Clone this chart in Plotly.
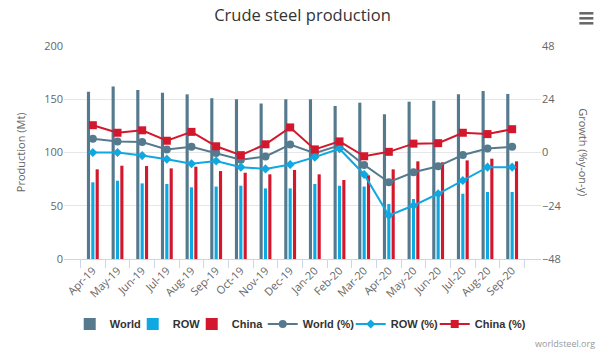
import plotly.graph_objects as go
from plotly.subplots import make_subplots

months = ["Apr-19", "May-19", "Jun-19", "Jul-19", "Aug-19", "Sep-19", "Oct-19", "Nov-19", "Dec-19",
          "Jan-20", "Feb-20", "Mar-20", "Apr-20", "May-20", "Jun-20", "Jul-20", "Aug-20", "Sep-20"]
world = [157.0, 162.0, 158.7, 156.0, 154.6, 151.0, 150.0, 146.0, 150.0,
         150.0, 143.7, 146.8, 136.0, 147.7, 148.6, 154.6, 157.7, 155.0]
row = [72.0, 73.5, 71.0, 70.4, 67.3, 68.0, 68.8, 66.3, 66.3,
       70.4, 68.8, 68.0, 51.6, 56.3, 61.6, 61.3, 62.9, 62.9]
china = [84.2, 87.6, 87.3, 85.1, 86.7, 82.6, 81.0, 79.5, 83.6,
         79.5, 74.2, 78.6, 84.2, 91.7, 90.8, 92.6, 94.2, 91.7]
world_pct = [6.2, 5.0, 4.7, 1.4, 2.6, -0.2, -3.3, -1.8, 3.6,
             -0.3, 3.2, -5.6, -13.4, -8.9, -6.2, -1.1, 1.8, 2.6]
row_pct = [0.0, 0.0, -1.4, -3.0, -5.1, -3.8, -6.6, -7.4, -5.4,
           -2.1, 1.7, -9.9, -28.4, -23.9, -18.6, -12.6, -6.6, -6.6]
china_pct = [12.3, 8.9, 10.0, 5.3, 9.3, 2.8, -1.2, 3.7, 11.3,
             1.4, 5.0, -1.7, 0.3, 4.0, 4.2, 8.9, 8.3, 10.5]

C_WORLD = "#557a8e"
C_ROW = "#10a8e0"
C_CHINA = "#d3182e"
FONT = "Open Sans"

fig = make_subplots(specs=[[{"secondary_y": True}]])

fig.add_trace(go.Bar(x=months, y=world, name="World", marker_color=C_WORLD, marker_line_width=0,
                     legendwidth=18), secondary_y=False)
fig.add_trace(go.Bar(x=months, y=row, name="ROW", marker_color=C_ROW, marker_line_width=0,
                     legendwidth=14), secondary_y=False)
fig.add_trace(go.Bar(x=months, y=china, name="China", marker_color=C_CHINA, marker_line_width=0,
                     legendwidth=26), secondary_y=False)

fig.add_trace(go.Scatter(x=months, y=world_pct, name="World (%)", mode="lines+markers",
                         line=dict(color=C_WORLD, width=2), marker=dict(symbol="circle", size=8, color=C_WORLD),
                         legendwidth=43),
              secondary_y=True)
fig.add_trace(go.Scatter(x=months, y=row_pct, name="ROW (%)", mode="lines+markers",
                         line=dict(color=C_ROW, width=2), marker=dict(symbol="diamond", size=7, color=C_ROW),
                         legendwidth=39),
              secondary_y=True)
fig.add_trace(go.Scatter(x=months, y=china_pct, name="China (%)", mode="lines+markers",
                         line=dict(color=C_CHINA, width=2), marker=dict(symbol="square", size=8, color=C_CHINA),
                         legendwidth=51),
              secondary_y=True)

fig.update_layout(
    width=605, height=351,
    margin=dict(l=64, r=64, t=46, b=92, autoexpand=False),
    paper_bgcolor="white", plot_bgcolor="white",
    barmode="group", bargap=0.47, bargroupgap=0.28,
    font=dict(family=FONT, color="#666666", size=11),
    title=dict(text="Crude steel production", x=0.5, xanchor="center", y=1 - 15.5 / 351, yanchor="middle",
               font=dict(family=FONT, size=16.5, color="#333333")),
    legend=dict(orientation="h", x=0.012, xanchor="left", y=(259 - 324) / 213, yanchor="middle",
                font=dict(family="Liberation Sans", size=11, color="#333333", weight="bold"),
                itemwidth=30, tracegroupgap=0, entrywidthmode="pixels"),
    showlegend=True,
)

fig.update_xaxes(domain=[0, 1], showline=True, linecolor="#ccd6eb", linewidth=1, ticks="outside",
                 tickson="boundaries", ticklen=8, tickcolor="#ccd6eb", tickangle=-45, showgrid=False,
                 automargin=False, tickfont=dict(size=11, color="#666666"))
fig.update_yaxes(range=[0, 200], dtick=50, gridcolor="#e6e6e6", gridwidth=1, zeroline=False, automargin=False,
                 showline=False, tickfont=dict(size=11, color="#666666"), ticks="", secondary_y=False)
fig.update_yaxes(range=[-48, 48], dtick=24, showgrid=False, zeroline=False, showline=False, automargin=False,
                 tickfont=dict(size=11, color="#666666"), ticks="", secondary_y=True)

fig.add_annotation(text="Production (Mt)", xref="paper", yref="paper", x=(21 - 64.3) / 476.4, y=0.5,
                   textangle=-90, showarrow=False, font=dict(size=11, color="#666666"),
                   xanchor="center", yanchor="middle")
fig.add_annotation(text="Growth (%y-on-y)", xref="paper", yref="paper", x=(583 - 64.3) / 476.4, y=0.5,
                   textangle=90, showarrow=False, font=dict(size=11, color="#666666"),
                   xanchor="center", yanchor="middle")
fig.add_annotation(text="worldsteel.org", xref="paper", yref="paper", x=(597 - 64.3) / 476.4,
                   y=(259 - 343) / 213, xanchor="right", yanchor="middle", showarrow=False,
                   font=dict(size=9, color="#999999"))

# hamburger menu icon
for yy in (13.3, 18.3, 23.3):
    py = (259 - yy) / 213
    fig.add_shape(type="line", xref="paper", yref="paper",
                  x0=(579 - 64.3) / 476.4, x1=(593 - 64.3) / 476.4, y0=py, y1=py,
                  line=dict(color="#666666", width=2.5))

fig.write_html("out.html")
